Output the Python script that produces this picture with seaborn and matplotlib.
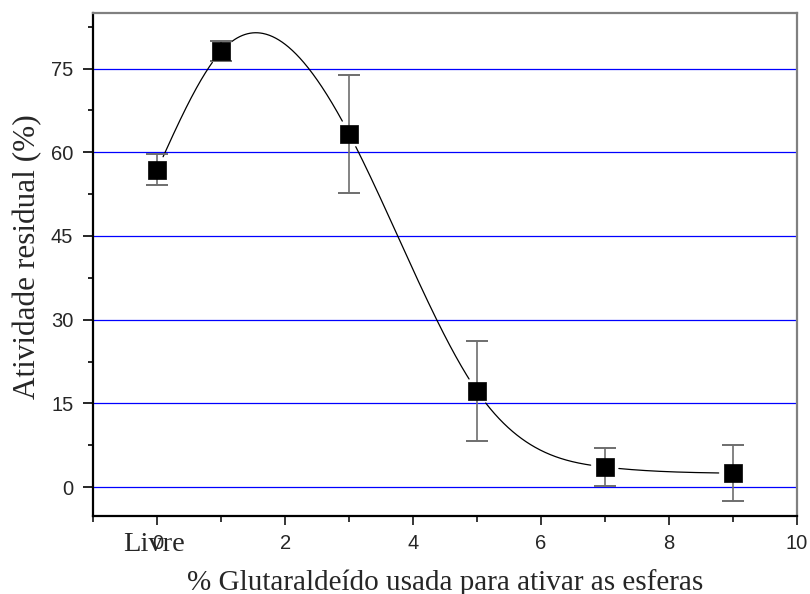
import numpy as np
import pandas as pd
import matplotlib
matplotlib.use('Agg')
import matplotlib.pyplot as plt
import matplotlib.transforms as mtransforms
from matplotlib.ticker import MultipleLocator
import seaborn as sns

# dados
glutaraldeido = [0, 1, 3, 5, 7, 9]
atividade = [56.9, 78.1, 63.3, 17.2, 3.6, 2.5]
erro = [2.85, 1.8, 10.6, 8.9, 3.4, 5.05]

dfx = pd.DataFrame({'x': glutaraldeido, 'y': atividade, 'erro': erro})


def spline_natural(x, y, xs):
    # spline cubica natural (como a ligacao "spline" do Origin)
    x = np.asarray(x, float)
    y = np.asarray(y, float)
    n = len(x)
    h = np.diff(x)
    A = np.zeros((n, n))
    b = np.zeros(n)
    A[0, 0] = 1
    A[-1, -1] = 1
    for i in range(1, n - 1):
        A[i, i - 1] = h[i - 1]
        A[i, i] = 2 * (h[i - 1] + h[i])
        A[i, i + 1] = h[i]
        b[i] = 6 * ((y[i + 1] - y[i]) / h[i] - (y[i] - y[i - 1]) / h[i - 1])
    M = np.linalg.solve(A, b)
    idx = np.clip(np.searchsorted(x, xs) - 1, 0, n - 2)
    x0, x1 = x[idx], x[idx + 1]
    hh = x1 - x0
    t0 = x1 - xs
    t1 = xs - x0
    return (M[idx] * t0**3 / (6 * hh) + M[idx + 1] * t1**3 / (6 * hh)
            + (y[idx] / hh - M[idx] * hh / 6) * t0
            + (y[idx + 1] / hh - M[idx + 1] * hh / 6) * t1)


sns.set_style('ticks')
plt.rcParams['font.family'] = ['Liberation Sans', 'DejaVu Sans']
plt.rcParams['xtick.direction'] = 'out'
plt.rcParams['ytick.direction'] = 'out'

fig, ax = plt.subplots(figsize=(8.1, 5.94), dpi=100)
fig.subplots_adjust(left=0.1153, right=0.9836, top=0.9786, bottom=0.132)

ax.set_xlim(-1, 10)
ax.set_ylim(-5.1, 85)

# grade horizontal azul
for v in [0, 15, 30, 45, 60, 75]:
    ax.axhline(v, color='#0000ff', lw=0.9, zorder=1)

# curva spline com intervalo perto dos pontos
xs = np.linspace(0, 9, 900)
ys = spline_natural(dfx['x'], dfx['y'], xs)
pts = ax.transData.transform(np.column_stack([xs, ys]))
centros = ax.transData.transform(dfx[['x', 'y']].to_numpy())
mask = np.zeros(len(xs), bool)
for c in centros:
    mask |= np.hypot(pts[:, 0] - c[0], pts[:, 1] - c[1]) < 14
ys_gap = ys.copy()
ys_gap[mask] = np.nan
ax.plot(xs, ys_gap, color='black', lw=0.9, zorder=2)

ax.errorbar(dfx['x'], dfx['y'], yerr=dfx['erro'], fmt='none',
            ecolor='#6e6e6e', elinewidth=1.2, capsize=8, capthick=1.4, zorder=3)
sns.scatterplot(x='x', y='y', data=dfx, marker='s', s=170, color='black',
                edgecolor='black', linewidth=0.5, ax=ax, zorder=4, legend=False)

ax.xaxis.set_major_locator(MultipleLocator(2))
ax.xaxis.set_minor_locator(MultipleLocator(1))
ax.yaxis.set_major_locator(MultipleLocator(15))
ax.yaxis.set_minor_locator(MultipleLocator(7.5))
ax.tick_params(axis='y', which='major', length=7, width=1.4, labelsize=14.5, pad=7.5)
ax.tick_params(axis='y', which='minor', length=3.5, width=1.4)
ax.tick_params(axis='x', which='major', length=6.5, width=1.3, labelsize=14.5, pad=6.5)
ax.tick_params(axis='x', which='minor', length=4, width=1.3)

for s in ['left', 'bottom']:
    ax.spines[s].set_color('black')
    ax.spines[s].set_linewidth(1.6)
for s in ['top', 'right']:
    ax.spines[s].set_color('#808080')
    ax.spines[s].set_linewidth(1.6)

serif = ['Liberation Serif', 'DejaVu Serif']
ax.set_xlabel('% Glutaraldeído usada para ativar as esferas', family=serif,
              fontsize=21)
ax.xaxis.label.set_va('baseline')
ax.xaxis.set_label_coords(0.5, -0.147)
ax.set_ylabel('Atividade residual (%)', family=serif, fontsize=22.5)
ax.yaxis.label.set_va('center')
ax.yaxis.set_label_coords(-0.094, 0.515)

# rotulo "Livre" sobre o zero
trans = mtransforms.blended_transform_factory(ax.transData, ax.transAxes)
ax.text(-0.05, -0.0708, 'Livre', transform=trans, family=serif, fontsize=20.5,
        ha='center', va='baseline')

fig.savefig('out.png', dpi=100)
